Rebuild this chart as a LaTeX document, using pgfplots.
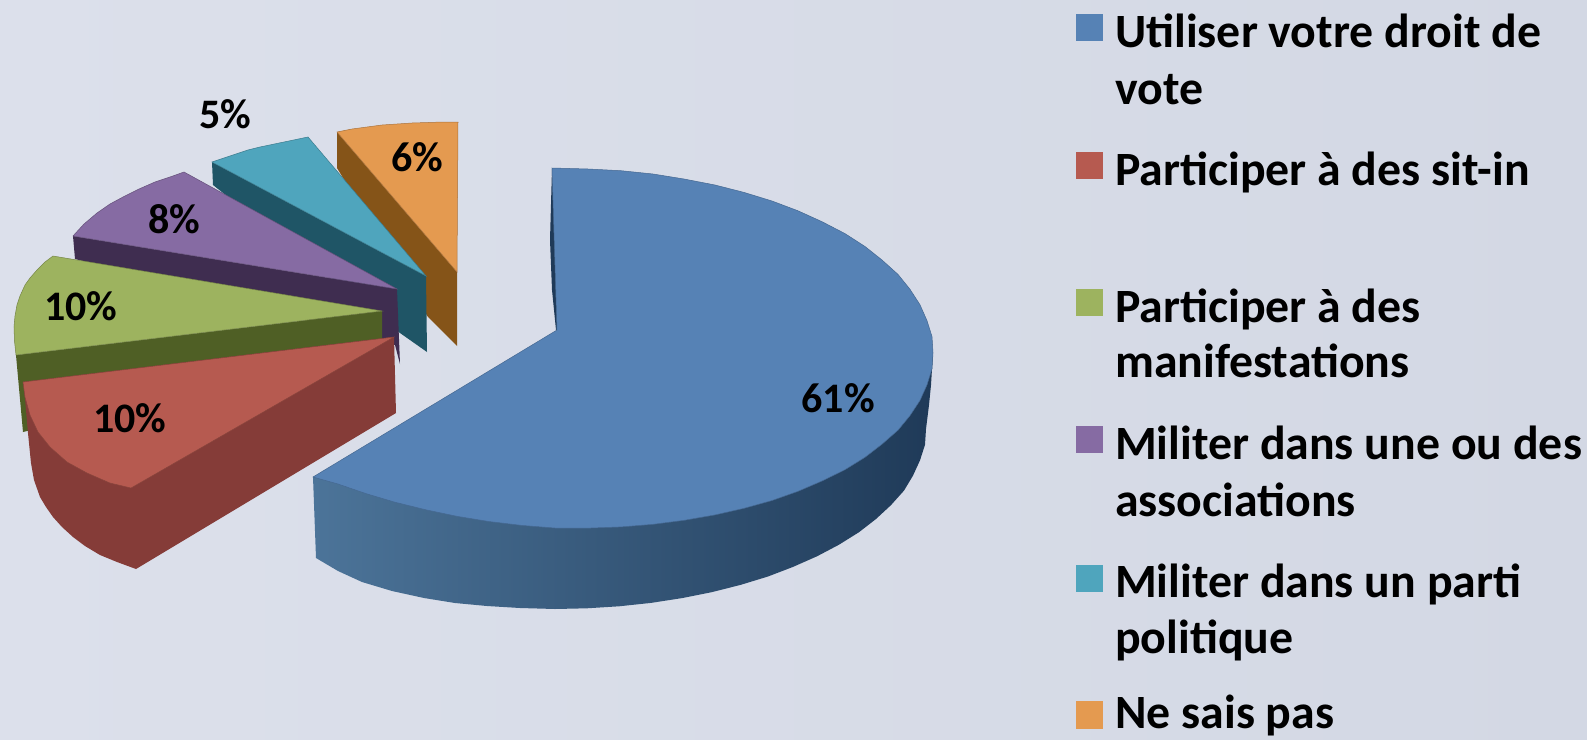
\documentclass[border=0pt]{standalone}
\usepackage{fontspec}
\setmainfont{Carlito}
\usepackage{pgfplots}
\pgfplotsset{compat=1.18}
\definecolor{bgL}{HTML}{DCE0EB}
\definecolor{bgR}{HTML}{D3D8E4}
\definecolor{bluT}{HTML}{5682B5}
\definecolor{bluA}{HTML}{4C7499}
\definecolor{bluB}{HTML}{2E4D6E}
\definecolor{bluC}{HTML}{1F3A58}
\definecolor{redT}{HTML}{B65A50}
\definecolor{redS}{HTML}{853C38}
\definecolor{greT}{HTML}{9DB35F}
\definecolor{greS}{HTML}{4F5F25}
\definecolor{purT}{HTML}{866BA3}
\definecolor{purS}{HTML}{3F2D50}
\definecolor{teaT}{HTML}{4FA5BD}
\definecolor{teaS}{HTML}{1F5566}
\definecolor{oraT}{HTML}{E49A50}
\definecolor{oraS}{HTML}{855418}
\newcommand{\legfont}{\fontsize{47.8}{58}\selectfont\bfseries}
\newcommand{\pctfont}{\fontsize{42}{50}\selectfont\bfseries}
\tikzset{
  txt/.style={anchor=base west, inner sep=0pt, font=\legfont, text=black},
  pct/.style={anchor=base, inner sep=0pt, font=\pctfont, text=black},
}
\begin{document}
\begin{tikzpicture}
\begin{axis}[
  scale only axis, width=1587pt, height=739pt,
  xmin=0, xmax=1587, ymin=0, ymax=739, y dir=reverse,
  axis lines=none, clip=true,
  every axis plot/.append style={no markers},
]
% background
\addplot[draw=none, left color=bgL, right color=bgR] coordinates {(0,0)(1587,0)(1587,739)(0,739)} --cycle;

% orange, 6%
\addplot[fill=oraS, draw=none] coordinates {(337,132)(457,272)(457,346)(428,317)(337,168)} --cycle;
\addplot[fill=oraT, draw=oraT!75!black, line width=0.5pt] coordinates {(337,132)(352,129)(367,127)(382,125)(397,124)(412,123)(428,122.5)(443,122)(458,122)(457,272)} --cycle;

% teal, 5%
\addplot[fill=teaS, draw=none] coordinates {(212,162)(426,276)(427,352)(400,333)(213,185)} --cycle;
\addplot[fill=teaT, draw=teaT!75!black, line width=0.5pt] coordinates {(212,162)(224,158)(236,154)(248,150)(260,147)(272,144.5)(284,142)(296,139.5)(308,137)(426,276)} --cycle;

% purple, 8%
\addplot[fill=purS, draw=none] coordinates {(73,236)(397,289)(400,364)(395,345)(75,259)} --cycle;
\addplot[fill=purT, draw=purT!75!black, line width=0.5pt] coordinates {(73,236)(84,224)(97,213)(110,204)(123,197)(139,189)(155,182)(170,177)(184,172)(397,289)} --cycle;

% green, 10%
\addplot[fill=greS, draw=none] coordinates {(16,355)(382,311)(382,345)(23,432)} --cycle;
\addplot[fill=greT, draw=greT!75!black, line width=0.5pt] coordinates {(16,355)(14.5,341)(14,327)(15,316)(17,305)(20,296)(25,285)(30,278)(37,270)(45,262)(53,256)(382,311)} --cycle;

% red, 10%
\addplot[fill=redS, draw=none] coordinates {(23,382)(24,387)(26,410)(28,433)(31,463)(34,480)(40,497)(46,507)(53,517)(62,527)(73,537)(85,546)(100,555)(117,562)(136,569)(396,413)(394,337)} --cycle;
\addplot[fill=redT, draw=redT!75!black, line width=0.5pt] coordinates {(23,382)(25,397)(30,415)(38,432)(50,447)(67,462)(87,473)(110,483)(131,488)(394,337)} --cycle;

% blue, 61%
\addplot[fill=bluC, draw=none] coordinates {(552,168)(550,240)(552,290)(556,330)(560,330)} --cycle;
\addplot[draw=none, left color=bluA, middle color=bluB, right color=bluC] coordinates {(313,477)(316,558)(338,571)(362,582)(392,591)(424,598)(455,603)(487,606)(520,608)(555,609)(587,608.3)(619,606.3)(651,602.9)(682,598.1)(712,592.1)(740.5,584.9)(768,576.5)(793,566.9)(817,556.3)(839,544.7)(859,532.2)(876,519)(891,505.1)(904,490.6)(913,475.6)(920,460.3)(925,444.7)(926,429)(929,405)(931,385)(933,353)(700,400)(400,430)} --cycle;
\addplot[fill=bluT, draw=bluT!80!black, line width=0.5pt] coordinates {(552,168)(588,169)(621,170.7)(653,174)(684,179)(715,185)(744,192.4)(772,201)(798,210.8)(822,221.7)(845,233.6)(865,246.5)(882,260)(898,274.4)(910,289.3)(920,304.8)(927,320.7)(932,336.6)(933,352.8)(932,368.8)(927,384.8)(920,400.4)(910,415.6)(898,430.2)(882,444.2)(865,457.3)(845,469.7)(822,481)(798,491.3)(772,500.5)(744,508.3)(715,514.9)(684,520.3)(653,524.3)(621,526.9)(588,528.1)(555,528)(522,525.4)(489,521.5)(457,516.3)(426,509.8)(395,502.2)(366,493.6)(338,484)(313,477)(557,330)} --cycle;

% percentage labels
\node[pct] at (axis cs:838,412) {61\%};
\node[pct] at (axis cs:130,432) {10\%};
\node[pct] at (axis cs:81,320) {10\%};
\node[pct] at (axis cs:174,233) {8\%};
\node[pct] at (axis cs:225,128) {5\%};
\node[pct] at (axis cs:417,171) {6\%};

% legend
\addplot[fill=bluT, draw=none] coordinates {(1076,14)(1103,14)(1103,41)(1076,41)} --cycle;
\addplot[fill=redT, draw=none] coordinates {(1076,152)(1103,152)(1103,179)(1076,179)} --cycle;
\addplot[fill=greT, draw=none] coordinates {(1076,289)(1103,289)(1103,316)(1076,316)} --cycle;
\addplot[fill=purT, draw=none] coordinates {(1076,426)(1103,426)(1103,453)(1076,453)} --cycle;
\addplot[fill=teaT, draw=none] coordinates {(1076,565)(1103,565)(1103,592)(1076,592)} --cycle;
\addplot[fill=oraT, draw=none] coordinates {(1076,701)(1103,701)(1103,729)(1076,729)} --cycle;
\node[txt] at (axis cs:1115,47) {Utiliser votre droit de};
\node[txt] at (axis cs:1115,104) {vote};
\node[txt] at (axis cs:1115,185) {Participer à des sit-in};
\node[txt] at (axis cs:1115,322) {Participer à des};
\node[txt] at (axis cs:1115,377) {manifestations};
\node[txt] at (axis cs:1115,459) {Militer dans une ou des};
\node[txt] at (axis cs:1115,516) {associations};
\node[txt] at (axis cs:1115,597) {Militer dans un parti};
\node[txt] at (axis cs:1115,653) {politique};
\node[txt] at (axis cs:1115,728) {Ne sais pas};
\end{axis}
\end{tikzpicture}
\end{document}
